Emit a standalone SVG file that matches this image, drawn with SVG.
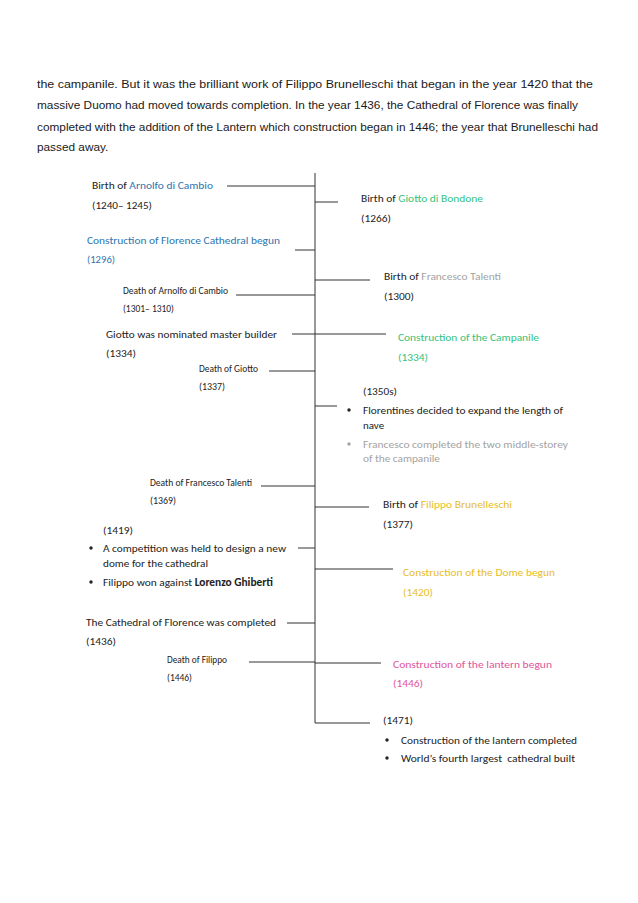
<svg xmlns="http://www.w3.org/2000/svg" width="638" height="903" viewBox="0 0 638 903">
<style>
  .para { font-family: "Liberation Sans", Arial, sans-serif; font-size: 11.8px; fill: #1a1a1a; }
  .t { font-family: "Carlito", "Lato", "Open Sans", sans-serif; font-size: 11px; fill: #222; }
  .s { font-family: "Carlito", "Lato", "Open Sans", sans-serif; font-size: 9.2px; fill: #222; }
  .blue { fill: #2e74b0; }
  .green { fill: #35c27b; }
  .gray { fill: #a3a3a3; }
  .gold { fill: #e9bd1c; }
  .pink { fill: #e0549c; }
  .b { font-weight: bold; }
  .conn line { stroke: #333; stroke-width: 1; }
  .dot { fill: #222; }
  .dotg { fill: #a3a3a3; }
</style>
<rect width="638" height="903" fill="#ffffff"/>

<g id="paragraph">
  <text class="para" x="37" y="88" textLength="556" lengthAdjust="spacingAndGlyphs">the campanile. But it was the brilliant work of Filippo Brunelleschi that began in the year 1420 that the</text>
  <text class="para" x="37" y="109" textLength="541" lengthAdjust="spacingAndGlyphs">massive Duomo had moved towards completion. In the year 1436, the Cathedral of Florence was finally</text>
  <text class="para" x="37" y="131" textLength="561" lengthAdjust="spacingAndGlyphs">completed with the addition of the Lantern which construction began in 1446; the year that Brunelleschi had</text>
  <text class="para" x="37" y="151">passed away.</text>
</g>

<g id="connectors" class="conn">
  <line x1="315" y1="173" x2="315" y2="723"/>
  <line x1="227" y1="186" x2="315" y2="186"/>
  <line x1="295" y1="250" x2="315" y2="250"/>
  <line x1="236" y1="295" x2="315" y2="295"/>
  <line x1="292" y1="334" x2="315" y2="334"/>
  <line x1="269" y1="371" x2="315" y2="371"/>
  <line x1="261" y1="486" x2="315" y2="486"/>
  <line x1="298" y1="548" x2="315" y2="548"/>
  <line x1="287" y1="623" x2="315" y2="623"/>
  <line x1="249" y1="662" x2="315" y2="662"/>
  <line x1="315" y1="202" x2="338" y2="202"/>
  <line x1="315" y1="280" x2="370" y2="280"/>
  <line x1="315" y1="334" x2="386" y2="334"/>
  <line x1="315" y1="406" x2="337" y2="406"/>
  <line x1="315" y1="507" x2="369" y2="507"/>
  <line x1="315" y1="569" x2="393" y2="569"/>
  <line x1="315" y1="663" x2="381" y2="663"/>
  <line x1="315" y1="723" x2="370" y2="723"/>
</g>

<g id="arnolfo-birth">
  <text class="t" x="92" y="189" textLength="121" lengthAdjust="spacingAndGlyphs">Birth of <tspan class="blue">Arnolfo di Cambio</tspan></text>
  <text class="t" x="92" y="209" textLength="60" lengthAdjust="spacingAndGlyphs">(1240– 1245)</text>
</g>
<g id="cathedral-begun">
  <text class="t blue" x="87" y="244" textLength="193" lengthAdjust="spacingAndGlyphs">Construction of Florence Cathedral begun</text>
  <text class="t blue" x="87" y="263" textLength="28" lengthAdjust="spacingAndGlyphs">(1296)</text>
</g>
<g id="arnolfo-death">
  <text class="s" x="123" y="294" textLength="105" lengthAdjust="spacingAndGlyphs">Death of Arnolfo di Cambio</text>
  <text class="s" x="123" y="312" textLength="51" lengthAdjust="spacingAndGlyphs">(1301– 1310)</text>
</g>
<g id="giotto-nominated">
  <text class="t" x="106" y="338" textLength="171" lengthAdjust="spacingAndGlyphs">Giotto was nominated master builder</text>
  <text class="t" x="106" y="357" textLength="30" lengthAdjust="spacingAndGlyphs">(1334)</text>
</g>
<g id="giotto-death">
  <text class="s" x="199" y="372" textLength="59" lengthAdjust="spacingAndGlyphs">Death of Giotto</text>
  <text class="s" x="199" y="390" textLength="26" lengthAdjust="spacingAndGlyphs">(1337)</text>
</g>
<g id="francesco-death">
  <text class="s" x="150" y="486" textLength="102" lengthAdjust="spacingAndGlyphs">Death of Francesco Talenti</text>
  <text class="s" x="150" y="504" textLength="26" lengthAdjust="spacingAndGlyphs">(1369)</text>
</g>
<g id="competition">
  <text class="t" x="103" y="534" textLength="30" lengthAdjust="spacingAndGlyphs">(1419)</text>
  <circle class="dot" cx="91" cy="548" r="1.7"/>
  <text class="t" x="103" y="552" textLength="183" lengthAdjust="spacingAndGlyphs">A competition was held to design a new</text>
  <text class="t" x="103" y="567" textLength="105" lengthAdjust="spacingAndGlyphs">dome for the cathedral</text>
  <circle class="dot" cx="91" cy="582" r="1.7"/>
  <text class="t" x="103" y="586" textLength="170" lengthAdjust="spacingAndGlyphs">Filippo won against <tspan class="b">Lorenzo Ghiberti</tspan></text>
</g>
<g id="cathedral-completed">
  <text class="t" x="86" y="626" textLength="190" lengthAdjust="spacingAndGlyphs">The Cathedral of Florence was completed</text>
  <text class="t" x="86" y="645" textLength="30" lengthAdjust="spacingAndGlyphs">(1436)</text>
</g>
<g id="filippo-death">
  <text class="s" x="167" y="663" textLength="60" lengthAdjust="spacingAndGlyphs">Death of Filippo</text>
  <text class="s" x="167" y="681" textLength="25" lengthAdjust="spacingAndGlyphs">(1446)</text>
</g>

<g id="giotto-birth">
  <text class="t" x="361" y="202" textLength="122" lengthAdjust="spacingAndGlyphs">Birth of <tspan class="green">Giotto di Bondone</tspan></text>
  <text class="t" x="361" y="222" textLength="30" lengthAdjust="spacingAndGlyphs">(1266)</text>
</g>
<g id="francesco-birth">
  <text class="t" x="384" y="280" textLength="117" lengthAdjust="spacingAndGlyphs">Birth of <tspan class="gray">Francesco Talenti</tspan></text>
  <text class="t" x="384" y="300" textLength="30" lengthAdjust="spacingAndGlyphs">(1300)</text>
</g>
<g id="campanile">
  <text class="t green" x="398" y="341" textLength="141" lengthAdjust="spacingAndGlyphs">Construction of the Campanile</text>
  <text class="t green" x="398" y="361" textLength="30" lengthAdjust="spacingAndGlyphs">(1334)</text>
</g>
<g id="nave">
  <text class="t" x="363" y="395" textLength="34" lengthAdjust="spacingAndGlyphs">(1350s)</text>
  <circle class="dot" cx="349" cy="410" r="1.7"/>
  <text class="t" x="363" y="414" textLength="200" lengthAdjust="spacingAndGlyphs">Florentines decided to expand the length of</text>
  <text class="t" x="363" y="429">nave</text>
  <circle class="dotg" cx="349" cy="444" r="1.7"/>
  <text class="t gray" x="363" y="448" textLength="205" lengthAdjust="spacingAndGlyphs">Francesco completed the two middle-storey</text>
  <text class="t gray" x="363" y="462" textLength="77" lengthAdjust="spacingAndGlyphs">of the campanile</text>
</g>
<g id="filippo-birth">
  <text class="t" x="383" y="508" textLength="129" lengthAdjust="spacingAndGlyphs">Birth of <tspan class="gold">Filippo Brunelleschi</tspan></text>
  <text class="t" x="383" y="528" textLength="30" lengthAdjust="spacingAndGlyphs">(1377)</text>
</g>
<g id="dome">
  <text class="t gold" x="403" y="576" textLength="152" lengthAdjust="spacingAndGlyphs">Construction of the Dome begun</text>
  <text class="t gold" x="403" y="596" textLength="30" lengthAdjust="spacingAndGlyphs">(1420)</text>
</g>
<g id="lantern-begun">
  <text class="t pink" x="393" y="668" textLength="159" lengthAdjust="spacingAndGlyphs">Construction of the lantern begun</text>
  <text class="t pink" x="393" y="687" textLength="30" lengthAdjust="spacingAndGlyphs">(1446)</text>
</g>
<g id="lantern-completed">
  <text class="t" x="383" y="724" textLength="30" lengthAdjust="spacingAndGlyphs">(1471)</text>
  <circle class="dot" cx="387" cy="740" r="1.7"/>
  <text class="t" x="401" y="744" textLength="176" lengthAdjust="spacingAndGlyphs">Construction of the lantern completed</text>
  <circle class="dot" cx="387" cy="758" r="1.7"/>
  <text class="t" x="401" y="762" textLength="174" lengthAdjust="spacingAndGlyphs" xml:space="preserve">World’s fourth largest  cathedral built</text>
</g>
</svg>
